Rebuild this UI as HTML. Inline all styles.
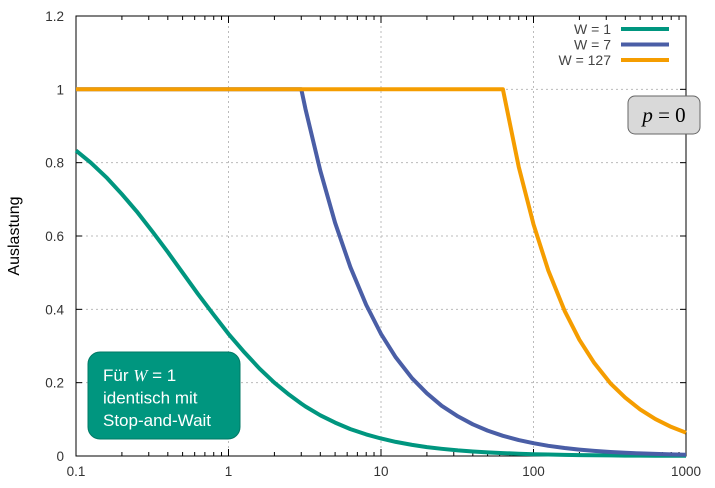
<!DOCTYPE html>
<html><head><meta charset="utf-8"><style>
body{margin:0;background:#fff;width:715px;height:488px;overflow:hidden;font-family:"Liberation Sans",sans-serif}
svg{display:block}
</style></head><body>
<svg id="chart" width="715" height="488" xmlns="http://www.w3.org/2000/svg"></svg>
<script>
const xTicks=[0.1,1,10,100,1000];
const xTickLabels=["0.1","1","10","100","1000"];
const yTicks=[0,0.2,0.4,0.6,0.8,1,1.2];
const yTickLabels=["0","0.2","0.4","0.6","0.8","1","1.2"];
const aValues=[0.1,0.125,0.16,0.2,0.25,0.32,0.4,0.5,0.63,0.8,1,1.25,1.6,2,2.5,3,3.2,4,5,6.3,8,10,12.5,16,20,25,32,40,50,63,80,100,125,160,200,250,320,400,500,630,800,1000];
const seriesW1=[0.833,0.8,0.758,0.714,0.667,0.61,0.556,0.5,0.442,0.385,0.333,0.286,0.238,0.2,0.167,0.143,0.135,0.111,0.091,0.0735,0.0588,0.0476,0.0385,0.0303,0.0244,0.0196,0.0154,0.0123,0.0099,0.0079,0.0062,0.005,0.004,0.0031,0.0025,0.002,0.0016,0.0012,0.001,0.0008,0.0006,0.0005];
const seriesW7=[1,1,1,1,1,1,1,1,1,1,1,1,1,1,1,1,0.946,0.778,0.636,0.515,0.412,0.333,0.269,0.212,0.171,0.137,0.108,0.0864,0.0693,0.0551,0.0435,0.0348,0.0279,0.0218,0.0175,0.014,0.0109,0.0087,0.007,0.0056,0.0044,0.0035];
const seriesW127=[1,1,1,1,1,1,1,1,1,1,1,1,1,1,1,1,1,1,1,1,1,1,1,1,1,1,1,1,1,1,0.789,0.632,0.506,0.396,0.317,0.254,0.198,0.159,0.127,0.1007,0.0793,0.0635];
const seriesNames=["W = 1","W = 7","W = 127"];
const seriesColors=["#00967f","#4a5ea6","#f59d00"];
const L=76,R=686,T=16,B=456;
const xs=v=>L+(Math.log10(v)+1)/4*(R-L);
const ys=v=>B-v/1.2*(B-T);
const svg=document.getElementById('chart');
const NS="http://www.w3.org/2000/svg";
function mk(tag,attrs,parent){const e=document.createElementNS(NS,tag);for(const k in attrs)e.setAttribute(k,attrs[k]);(parent||svg).appendChild(e);return e;}
yTicks.forEach((v,i)=>{
  if(v>0&&v<1.2){const g=mk('line',{x1:L,x2:R,y1:ys(v),y2:ys(v),stroke:'#bbb','stroke-dasharray':'2,3'});
  
  }
  mk('line',{x1:L,x2:L+6,y1:ys(v),y2:ys(v),stroke:'#000'});
  mk('line',{x1:R,x2:R-6,y1:ys(v),y2:ys(v),stroke:'#000'});
  const t=mk('text',{x:L-12,y:ys(v)+5,'text-anchor':'end','font-size':'13.5',fill:'#333'});t.textContent=yTickLabels[i];
  
  
});
xTicks.forEach((v,i)=>{
  if(v>0.1&&v<1000){const g=mk('line',{x1:xs(v),x2:xs(v),y1:T,y2:B,stroke:'#bbb','stroke-dasharray':'2,3'});
  
  }
  const t=mk('text',{x:xs(v),y:B+20,'text-anchor':'middle','font-size':'13.5',fill:'#333'});t.textContent=xTickLabels[i];
  
  
  if(i<xTicks.length-1){for(let m=2;m<10;m++){const x=xs(v*m);
    mk('line',{x1:x,x2:x,y1:B,y2:B-4,stroke:'#000'});mk('line',{x1:x,x2:x,y1:T,y2:T+4,stroke:'#000'});}}
  mk('line',{x1:xs(v),x2:xs(v),y1:B,y2:B-7,stroke:'#000'});mk('line',{x1:xs(v),x2:xs(v),y1:T,y2:T+7,stroke:'#000'});
});
const frame=mk('rect',{x:L,y:T,width:R-L,height:B-T,fill:'none',stroke:'#000','stroke-width':1});


const yt=mk('text',{x:19,y:236,'text-anchor':'middle','font-size':'16',fill:'#000',transform:'rotate(-90 19 236)'});yt.textContent='Auslastung';


[seriesW1,seriesW7,seriesW127].forEach((s,k)=>{
  const d=s.map((v,i)=>(i?'L':'M')+xs(aValues[i]).toFixed(1)+','+ys(v).toFixed(1)).join(' ');
  const p=mk('path',{d:d,fill:'none',stroke:seriesColors[k],'stroke-width':4,'stroke-linejoin':'round'});
  
  
  const ly=29+k*15.5;
  const lt=mk('text',{x:611,y:ly+5,'text-anchor':'end','font-size':'14',fill:'#444'});lt.textContent=seriesNames[k];
  
  
  const ll=mk('line',{x1:621,x2:669,y1:ly,y2:ly,stroke:seriesColors[k],'stroke-width':4});
  
  
});
const pb=mk('rect',{x:628,y:96,width:72,height:38,rx:7,fill:'#d9d9d9',stroke:'#666','stroke-width':1});


const pt=mk('text',{x:664,y:122,'text-anchor':'middle','font-size':'21','font-family':'Liberation Serif,serif',fill:'#000'});
pt.innerHTML='<tspan font-style="italic">p</tspan> = 0';


const nb=mk('rect',{x:88,y:352,width:152,height:87,rx:12,fill:'#00967f',stroke:'#007a66','stroke-width':1});


const lines=['Für <tspan font-style="italic" font-family="Liberation Serif,serif">W</tspan> = 1','identisch mit','Stop-and-Wait'];
lines.forEach((h,i)=>{const t=mk('text',{x:103,y:381+i*22.5,'font-size':'17',fill:'#fff'});t.innerHTML=h;
  
  });
</script>
</body></html>
